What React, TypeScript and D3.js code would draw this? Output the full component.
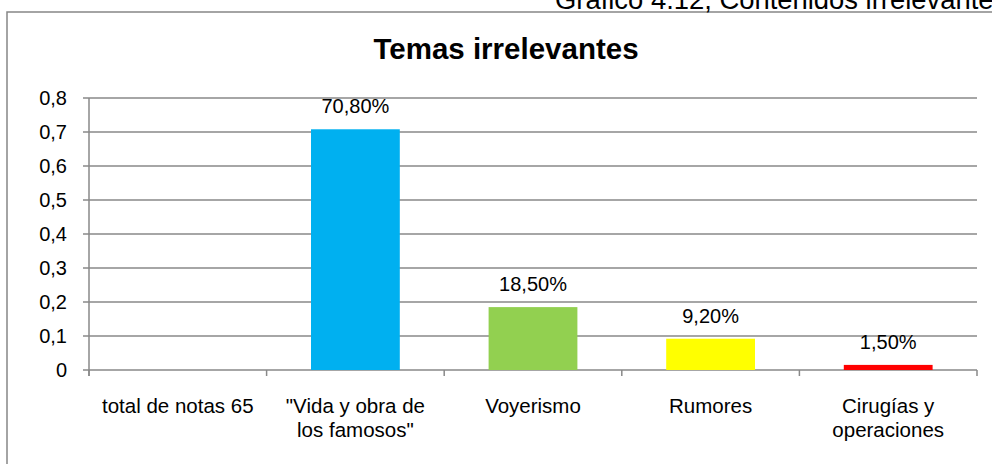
import { useMemo } from "react";
import * as d3 from "d3";

const WIDTH = 992;
const HEIGHT = 464;
const MARGIN = { top: 98, right: 15, bottom: 94, left: 89 };
const FONT = "'Liberation Sans', Arial, sans-serif";

const categories = [
  "total de notas 65",
  "\"Vida y obra de los famosos\"",
  "Voyerismo",
  "Rumores",
  "Cirugías y operaciones",
];
const categoryLines = [
  ["total de notas 65"],
  ["\"Vida y obra de", "los famosos\""],
  ["Voyerismo"],
  ["Rumores"],
  ["Cirugías y", "operaciones"],
];
const values = [null, 0.708, 0.185, 0.092, 0.015];
const valueLabels = ["", "70,80%", "18,50%", "9,20%", "1,50%"];
const barColors = ["#000000", "#00B0F0", "#92D050", "#FFFF00", "#FF0000"];
const yTicks = [0, 0.1, 0.2, 0.3, 0.4, 0.5, 0.6, 0.7, 0.8];

const esLocale = d3.formatLocale({
  decimal: ",",
  thousands: ".",
  grouping: [3],
  currency: ["", "€"],
});
const fmtTick = (v: number) => (v === 0 ? "0" : esLocale.format(".1f")(v));

const GRID = "#898989";

export default function App() {
  const boundsWidth = WIDTH - MARGIN.left - MARGIN.right;
  const boundsHeight = HEIGHT - MARGIN.top - MARGIN.bottom;

  const xScale = useMemo(
    () => d3.scaleBand().domain(categories).range([0, boundsWidth]).paddingInner(0).paddingOuter(0),
    [boundsWidth]
  );
  const yScale = useMemo(
    () => d3.scaleLinear().domain([0, 0.8]).range([boundsHeight, 0]),
    [boundsHeight]
  );

  const bw = xScale.bandwidth();
  const barWidth = bw / 2;
  const boundaries = categories.map((c) => xScale(c)!).concat([boundsWidth]);

  return (
    <svg
      width={WIDTH}
      height={HEIGHT}
      style={{ position: "absolute", left: 0, top: 0, background: "#fff" }}
      fontFamily={FONT}
    >
      <rect x={0} y={0} width={WIDTH} height={HEIGHT} fill="#fff" />
      {/* outer frame, cropped on right and bottom */}
      <rect x={7} y={12} width={WIDTH + 20} height={HEIGHT + 20} fill="none" stroke="#868686" strokeWidth={1.5} />
      <text x={555} y={8.5} fontSize={27.4} fill="#000">
        Gráfico 4.12, Contenidos irrelevantes
      </text>
      <text x={506} y={59} fontSize={29.5} fontWeight="bold" textAnchor="middle" fill="#000">
        Temas irrelevantes
      </text>

      <g transform={`translate(${MARGIN.left},${MARGIN.top})`}>
        {/* grid + y ticks */}
        {yTicks.map((t) => (
          <g key={t}>
            <line x1={-6} x2={boundsWidth} y1={yScale(t)} y2={yScale(t)} stroke={GRID} strokeWidth={1.5} />
            <text
              x={-22}
              y={yScale(t)}
              dy="0.35em"
              fontSize={20}
              textAnchor="end"
              fill="#000"
            >
              {fmtTick(t)}
            </text>
          </g>
        ))}
        <line x1={0} x2={0} y1={0} y2={boundsHeight + 6} stroke={GRID} strokeWidth={1.5} />
        {boundaries.map((b, i) => (
          <line key={i} x1={b} x2={b} y1={boundsHeight} y2={boundsHeight + 6} stroke={GRID} strokeWidth={1.5} />
        ))}

        {/* bars */}
        {categories.map((c, i) => {
          const v = values[i];
          if (v == null) return null;
          const x = xScale(c)! + (bw - barWidth) / 2;
          return (
            <rect
              key={c}
              x={x}
              width={barWidth}
              y={yScale(v)}
              height={boundsHeight - yScale(v)}
              fill={barColors[i]}
            />
          );
        })}

        {/* value labels */}
        {categories.map((c, i) => {
          const v = values[i];
          if (v == null) return null;
          return (
            <text
              key={c}
              x={xScale(c)! + bw / 2}
              y={yScale(v) - 16}
              fontSize={20}
              textAnchor="middle"
              fill="#000"
            >
              {valueLabels[i]}
            </text>
          );
        })}

        {/* category labels */}
        {categories.map((c, i) => (
          <text key={c} x={xScale(c)! + bw / 2} y={boundsHeight + 43} fontSize={20.5} textAnchor="middle" fill="#000">
            {categoryLines[i].map((line, j) => (
              <tspan key={j} x={xScale(c)! + bw / 2} dy={j === 0 ? 0 : 24}>
                {line}
              </tspan>
            ))}
          </text>
        ))}
      </g>
    </svg>
  );
}
